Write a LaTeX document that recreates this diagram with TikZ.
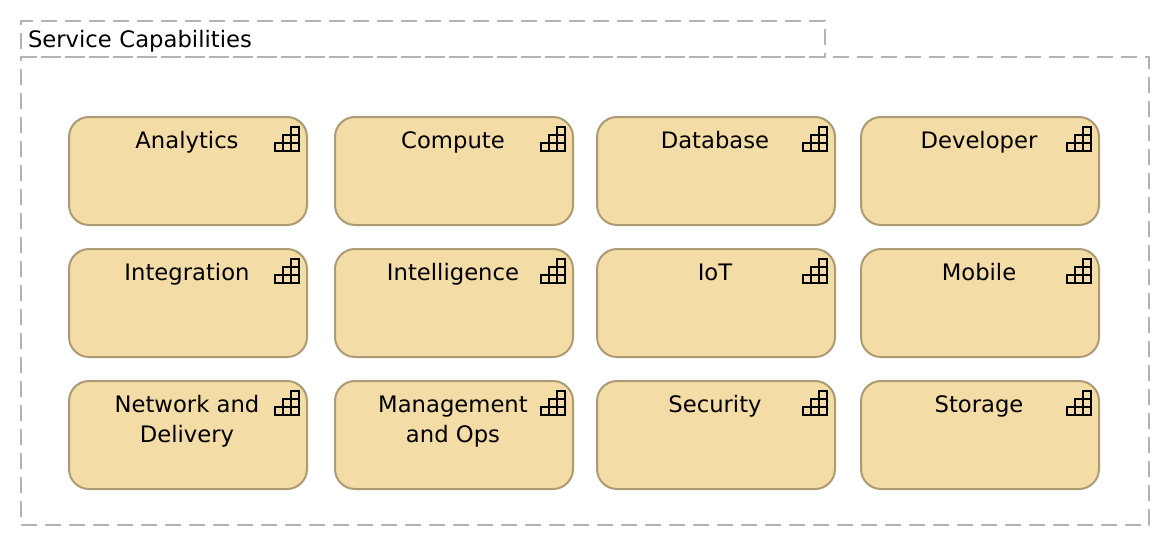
\documentclass[tikz,border=0pt]{standalone}
\usepackage{fontspec}
\setmainfont{DejaVu Sans}
\usetikzlibrary{positioning}
\definecolor{capFill}{HTML}{F4DCA6}
\definecolor{capLine}{HTML}{AD9B73}
\definecolor{groupLine}{HTML}{B3B3B3}

\begin{document}
\begin{tikzpicture}[x=1pt,y=-1pt]
	%defines
	\tikzstyle{groupTab} = [rectangle, anchor=north west, outer sep=0pt, inner xsep=7pt, inner ysep=0pt, minimum height=36pt, text width=790pt, text height=22pt, text depth=5pt, align=left, draw=groupLine, line width=2pt, dash pattern=on 16pt off 8pt, font=\fontsize{22.7}{30}\selectfont]
	\tikzstyle{groupBody} = [rectangle, outer sep=0pt, minimum width=1128pt, minimum height=468pt, draw=groupLine, line width=2pt, dash pattern=on 16pt off 8pt]
	\tikzstyle{capability} = [rectangle, rounded corners=20pt, outer sep=0pt, minimum width=238pt, minimum height=108pt, fill=capFill, draw=capLine, line width=2pt]
	\tikzstyle{capText} = [inner sep=0pt, align=center, xshift=-1pt, font=\fontsize{22.7}{30}\selectfont]
	\tikzset{stairs/.pic={
		\draw [black, line width=2pt] (0,0) rectangle (-8,24) (-8,8) rectangle (-16,24) (-16,16) rectangle (-24,24)
			(0,8) -- (-8,8) (0,16) -- (-16,16);
	}}
	\useasboundingbox (0,0) rectangle (1170,546);
	%group
	\node (capabilitiesTab) [groupTab] at (21,21) {Service Capabilities};
	\node (capabilitiesBody) [groupBody, below=0pt of capabilitiesTab.south west, anchor=north west] {};
	%chart
	\node (analytics) [capability] at (188,171) {};
	\node (compute) [capability, right=28pt of analytics] {};
	\node (database) [capability, right=24pt of compute] {};
	\node (developer) [capability, right=26pt of database] {};
	\node (integration) [capability, below=24pt of analytics] {};
	\node (intelligence) [capability, below=24pt of compute] {};
	\node (iot) [capability, below=24pt of database] {};
	\node (mobile) [capability, below=24pt of developer] {};
	\node (network) [capability, below=24pt of integration] {};
	\node (management) [capability, below=24pt of intelligence] {};
	\node (security) [capability, below=24pt of iot] {};
	\node (storage) [capability, below=24pt of mobile] {};
	%labels
	\node (analyticsText) [capText, below=10pt of analytics.north] {\strut Analytics};
	\node (computeText) [capText, below=10pt of compute.north] {\strut Compute};
	\node (databaseText) [capText, below=10pt of database.north] {\strut Database};
	\node (developerText) [capText, below=10pt of developer.north] {\strut Developer};
	\node (integrationText) [capText, below=10pt of integration.north] {\strut Integration};
	\node (intelligenceText) [capText, below=10pt of intelligence.north] {\strut Intelligence};
	\node (iotText) [capText, below=10pt of iot.north] {\strut IoT};
	\node (mobileText) [capText, below=10pt of mobile.north] {\strut Mobile};
	\node (networkText) [capText, below=10pt of network.north] {\strut Network and\\\strut Delivery};
	\node (managementText) [capText, below=10pt of management.north] {\strut Management\\\strut and Ops};
	\node (securityText) [capText, below=10pt of security.north] {\strut Security};
	\node (storageText) [capText, below=10pt of storage.north] {\strut Storage};
	%icons
	\pic at ([xshift=-8pt,yshift=-10pt]analytics.north east) {stairs};
	\pic at ([xshift=-8pt,yshift=-10pt]compute.north east) {stairs};
	\pic at ([xshift=-8pt,yshift=-10pt]database.north east) {stairs};
	\pic at ([xshift=-8pt,yshift=-10pt]developer.north east) {stairs};
	\pic at ([xshift=-8pt,yshift=-10pt]integration.north east) {stairs};
	\pic at ([xshift=-8pt,yshift=-10pt]intelligence.north east) {stairs};
	\pic at ([xshift=-8pt,yshift=-10pt]iot.north east) {stairs};
	\pic at ([xshift=-8pt,yshift=-10pt]mobile.north east) {stairs};
	\pic at ([xshift=-8pt,yshift=-10pt]network.north east) {stairs};
	\pic at ([xshift=-8pt,yshift=-10pt]management.north east) {stairs};
	\pic at ([xshift=-8pt,yshift=-10pt]security.north east) {stairs};
	\pic at ([xshift=-8pt,yshift=-10pt]storage.north east) {stairs};
\end{tikzpicture}
\end{document}
